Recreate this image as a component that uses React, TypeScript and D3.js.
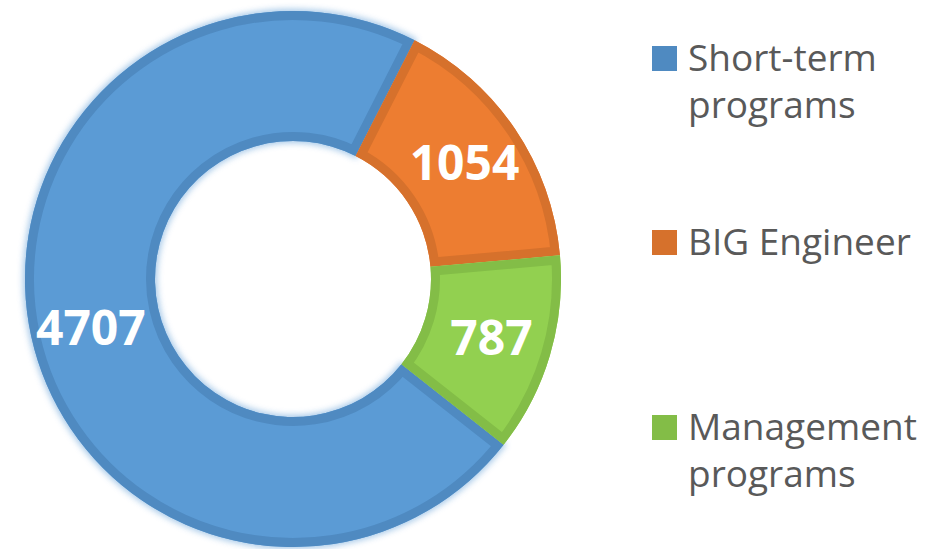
import React from "react";
import * as d3 from "d3";

const categories = ["Short-term programs", "BIG Engineer", "Management programs"];
const values = [4707, 1054, 787];
const legendLines = [["Short-term", "programs"], ["BIG Engineer"], ["Management", "programs"]];
const fillColors = ["#5B9BD5", "#ED7D31", "#92D050"];
const borderColors = ["#4F8AC1", "#D6712C", "#83BD47"];

const W = 926;
const H = 549;
const cx = 293;
const cy = 279;
const outerR = 268;
const innerR = 138;
const startDeg = 128.2;
const labelR = 207;

export default function App() {
  const start = (startDeg * Math.PI) / 180;
  const pie = d3
    .pie<number>()
    .sort(null)
    .value((d) => d)
    .startAngle(start)
    .endAngle(start + 2 * Math.PI);
  const arcs = pie(values);
  const arc = d3.arc<d3.PieArcDatum<number>>().innerRadius(innerR).outerRadius(outerR);
  const labelArc = d3.arc<d3.PieArcDatum<number>>().innerRadius(labelR).outerRadius(labelR);

  const legendY = [46, 230, 415];
  const lineGap = 47;

  return (
    <svg
      width={W}
      height={H}
      style={{ position: "absolute", left: 0, top: 0, background: "#fff" }}
      fontFamily="'Open Sans', sans-serif"
    >
      <defs>
        <filter id="glow" x="-20%" y="-20%" width="140%" height="140%">
          <feGaussianBlur stdDeviation="3" />
        </filter>
        {arcs.map((a, i) => (
          <clipPath id={`clip${i}`} key={i}>
            <path d={arc(a) || ""} />
          </clipPath>
        ))}
      </defs>
      <g transform={`translate(${cx},${cy})`}>
        <path d={arc(arcs[0]) || ""} fill="#9DC3E6" stroke="#9DC3E6" strokeWidth={4} filter="url(#glow)" opacity={0.9} />
        {arcs.map((a, i) => (
          <g key={categories[i]}>
            <path d={arc(a) || ""} fill={fillColors[i]} />
            <path
              d={arc(a) || ""}
              fill="none"
              stroke={borderColors[i]}
              strokeWidth={18}
              clipPath={`url(#clip${i})`}
            />
          </g>
        ))}
        {arcs.map((a, i) => {
          const [x, y] = labelArc.centroid(a);
          return (
            <text
              key={`l${i}`}
              x={x}
              y={y + (i === 0 ? 4 : 0)}
              dy="0.36em"
              textAnchor="middle"
              fill="#fff"
              fontWeight="bold"
              fontSize={48}
            >
              {values[i]}
            </text>
          );
        })}
      </g>
      <g>
        {categories.map((c, i) => (
          <g key={`lg${i}`}>
            <rect x={652} y={legendY[i]} width={25} height={25} fill={borderColors[i]} />
            {legendLines[i].map((ln, j) => (
              <text key={j} x={688} y={legendY[i] + 25 + j * lineGap} fill="#595959" fontSize={37}>
                {ln}
              </text>
            ))}
          </g>
        ))}
      </g>
    </svg>
  );
}
